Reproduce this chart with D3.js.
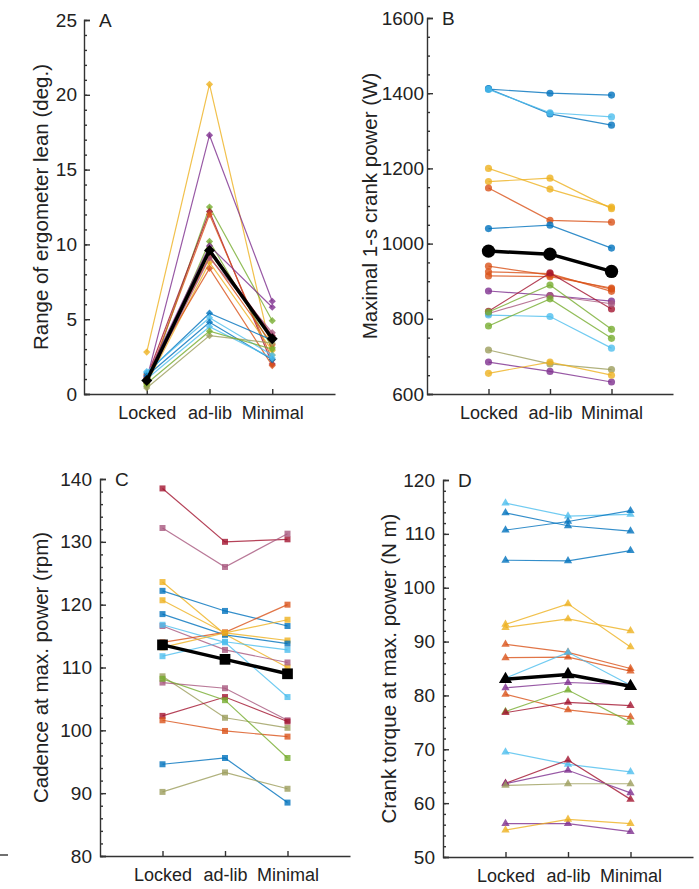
<!DOCTYPE html>
<html><head><meta charset="utf-8">
<script src="https://cdn.jsdelivr.net/npm/d3@7"></script>
<style>
html,body{margin:0;padding:0;background:#fff;}
svg{display:block;}
text{font-family:"Liberation Sans",Arial,Helvetica,sans-serif;fill:#222;}
</style></head><body>
<svg id="fig" width="699" height="889"></svg>
<script>
// Test conditions on every x axis
const conditions = ["Locked", "ad-lib", "Minimal"];

// A: range of ergometer lean (deg.), one entry per rider
const leanLocked  = [2.8, 1.0, 0.5, 1.1, 0.8, 0.6, 1.2, 0.9, 1.0, 0.7, 1.3, 0.8, 1.4, 1.5, 1.2, 1.0, 0.4, 0.7];
const leanAdlib   = [20.7, 17.3, 12.5, 12.2, 12.0, 10.2, 9.9, 9.7, 9.2, 8.8, 8.4, 9.1, 5.4, 5.1, 4.8, 4.5, 3.9, 4.2];
const leanMinimal = [2.6, 6.2, 4.9, 2.0, 2.3, 3.1, 5.8, 3.9, 3.3, 2.9, 1.9, 4.1, 3.6, 2.6, 2.3, 2.4, 3.4, 3.0];
const leanMean    = [0.9, 9.6, 3.7];
const leanHue     = ["yellow","purple","green","darkred","orange","green","purple","darkred","orange","yellow","orange","mauve","blue","lightblue","blue","lightblue","olive","green"];
const leanTicks   = [0, 5, 10, 15, 20, 25];

// B: maximal 1-s crank power (W)
const powerLocked  = [1411, 1412, 1410, 1200, 1165, 1148, 1040, 940, 925, 914, 874, 820, 814, 810, 781, 818, 717, 685, 655];
const powerAdlib   = [1400, 1345, 1348, 1145, 1174, 1062, 1049, 916, 920, 912, 862, 922, 862, 806, 853, 890, 680, 660, 685];
const powerMinimal = [1395, 1315, 1337, 1097, 1093, 1057, 988, 879, 873, 882, 847, 826, 840, 722, 748, 772, 665, 632, 650];
const powerMean    = [980, 972, 926];
const powerHue     = ["blue","blue","lightblue","yellow","yellow","orange","blue","orange","orange","orange","purple","darkred","mauve","lightblue","green","green","olive","purple","yellow"];
const powerTicks   = [600, 800, 1000, 1200, 1400, 1600];

// C: cadence at maximal power (rpm)
const cadenceLocked  = [138.5, 132.2, 123.6, 122.2, 120.7, 118.5, 116.6, 114.0, 111.8, 116.8, 113.2, 108.6, 107.6, 102.3, 101.6, 108.2, 94.6, 90.2];
const cadenceAdlib   = [130.0, 126.0, 115.3, 119.0, 115.5, 115.2, 112.8, 115.6, 114.1, 114.0, 115.5, 102.0, 106.7, 105.3, 99.9, 104.8, 95.6, 93.3];
const cadenceMinimal = [130.4, 131.3, 110.0, 116.6, 114.3, 113.8, 110.8, 120.0, 112.8, 105.3, 117.6, 100.4, 101.6, 101.4, 99.0, 95.6, 88.5, 90.7];
const cadenceMean    = [113.6, 111.3, 109.0];
const cadenceHue     = ["darkred","mauve","yellow","blue","yellow","blue","mauve","orange","lightblue","lightblue","yellow","olive","mauve","darkred","orange","green","blue","olive"];
const cadenceTicks   = [80, 90, 100, 110, 120, 130, 140];

// D: crank torque at maximal power (N m)
const torqueLocked  = [115.7, 113.9, 110.7, 105.1, 93.2, 92.6, 89.5, 87.0, 83.2, 81.4, 80.2, 77.0, 76.8, 69.5, 63.7, 63.6, 63.3, 56.2, 55.0];
const torqueAdlib   = [113.3, 111.5, 112.3, 105.0, 97.0, 94.2, 88.0, 87.1, 88.0, 82.4, 77.3, 81.0, 78.7, 67.2, 68.0, 66.1, 63.6, 56.2, 57.0];
const torqueMinimal = [113.6, 110.5, 114.3, 106.9, 89.0, 92.0, 85.0, 84.5, 81.9, 82.0, 76.0, 75.0, 78.1, 65.8, 60.7, 61.9, 63.6, 54.7, 56.2];
const torqueMean    = [83.0, 83.9, 81.7];
const torqueHue     = ["lightblue","blue","blue","blue","yellow","yellow","orange","orange","lightblue","purple","orange","green","darkred","lightblue","darkred","purple","olive","purple","yellow"];
const torqueTicks   = [50, 60, 70, 80, 90, 100, 110, 120];

// Rider colours
const palette = {
  blue: "#0072BD", orange: "#D95319", yellow: "#EDB120", purple: "#7E2F8E",
  green: "#77AC30", lightblue: "#4DBEEE", darkred: "#A2142F",
  mauve: "#A8577E", olive: "#9C9E5C"
};

const svg = d3.select("#fig");

const panels = [
  { letter: "A", locked: leanLocked, adlib: leanAdlib, minimal: leanMinimal, mean: leanMean, hue: leanHue,
    ticks: leanTicks, minorStep: 1, title: "Range of ergometer lean (deg.)",
    ax: 84, right: 335, top: 20, bottom: 394, titleX: 40, pad: 7,
    shape: "diamond" },
  { letter: "B", locked: powerLocked, adlib: powerAdlib, minimal: powerMinimal, mean: powerMean, hue: powerHue,
    ticks: powerTicks, minorStep: 50, title: "Maximal 1-s crank power (W)",
    ax: 427, right: 673, top: 18, bottom: 394, titleX: 369, pad: 3,
    shape: "circle" },
  { letter: "C", locked: cadenceLocked, adlib: cadenceAdlib, minimal: cadenceMinimal, mean: cadenceMean, hue: cadenceHue,
    ticks: cadenceTicks, minorStep: 2, title: "Cadence at max. power (rpm)",
    ax: 100, right: 350, top: 479, bottom: 856, titleX: 40, pad: 8,
    shape: "square" },
  { letter: "D", locked: torqueLocked, adlib: torqueAdlib, minimal: torqueMinimal, mean: torqueMean, hue: torqueHue,
    ticks: torqueTicks, minorStep: 2, title: "Crank torque at max. power (N m)",
    ax: 443, right: 693, top: 480, bottom: 857, titleX: 388, pad: 8,
    shape: "triangle" }
];

// Marker path for riders (small) and for the group mean (big)
function markerPath(shape, big) {
  if (shape === "circle")   return d3.symbol(d3.symbolCircle, big ? 140 : 40)();
  if (shape === "square")   return d3.symbol(d3.symbolSquare, big ? 115 : 36)();
  if (shape === "triangle") return d3.symbol(d3.symbolTriangle, big ? 75 : 30)();
  return d3.symbol(d3.symbolSquare, big ? 60 : 26)(); // rotated below into a diamond
}

panels.forEach(p => {
  const lo = p.ticks[0], hi = p.ticks[p.ticks.length - 1];
  const y = d3.scaleLinear().domain([lo, hi]).range([p.bottom, p.top]);
  const x = d3.scalePoint().domain(conditions).range([p.ax, p.right]).padding(1);
  const g = svg.append("g");

  // minor ticks
  const minorAxis = g.append("g").attr("transform", `translate(${p.ax},0)`)
    .call(d3.axisLeft(y).tickValues(d3.range(lo, hi + 1e-9, p.minorStep)).tickSize(-3).tickFormat(""));
  minorAxis.select(".domain").remove();

  // y axis with major ticks
  const yAxis = g.append("g").attr("transform", `translate(${p.ax},0)`)
    .call(d3.axisLeft(y).tickValues(p.ticks).tickFormat(d3.format("d"))
      .tickSizeInner(-6).tickSizeOuter(-6).tickPadding(p.pad));
  yAxis.selectAll("text").style("font-size", "19px").style("fill", "#222");

  // x axis
  const xAxis = g.append("g").attr("transform", `translate(0,${p.bottom})`)
    .call(d3.axisBottom(x).tickSizeInner(-5).tickSizeOuter(0).tickPadding(12));
  xAxis.selectAll("text").style("font-size", "18px").style("fill", "#222");

  [minorAxis, yAxis, xAxis].forEach(a => {
    a.selectAll("path,line").attr("stroke", "#333").attr("stroke-width", 1.4);
  });

  // axis title
  g.append("text")
    .attr("transform", `translate(${p.titleX},${(p.top + p.bottom) / 2}) rotate(-90)`)
    .attr("text-anchor", "middle").attr("dominant-baseline", "central")
    .style("font-size", "20.5px").text(p.title);

  // panel letter
  g.append("text").attr("x", p.ax + 15).attr("y", p.top + 7)
    .style("font-size", "19px").text(p.letter);

  const line = d3.line().x((d, j) => x(conditions[j])).y(d => y(d));
  const riders = p.locked.map((v, i) => ({ hue: palette[p.hue[i]], values: [p.locked[i], p.adlib[i], p.minimal[i]] }));
  const rot = p.shape === "diamond" ? " rotate(45)" : "";

  const rg = g.append("g").selectAll("g").data(riders).join("g");
  rg.append("path").attr("d", d => line(d.values))
    .attr("fill", "none").attr("stroke", d => d.hue).attr("stroke-width", 1.2).attr("stroke-opacity", 0.8);
  rg.selectAll("path.m").data(d => d.values.map(v => ({ v, hue: d.hue }))).join("path")
    .attr("class", "m")
    .attr("d", markerPath(p.shape, false))
    .attr("transform", (d, j) => `translate(${x(conditions[j])},${y(d.v)})${rot}`)
    .attr("fill", d => d.hue).attr("fill-opacity", 0.8);

  // group mean
  g.append("path").attr("d", line(p.mean))
    .attr("fill", "none").attr("stroke", "#000").attr("stroke-width", 3.5);
  g.append("g").selectAll("path").data(p.mean).join("path")
    .attr("d", markerPath(p.shape, true))
    .attr("transform", (d, j) => `translate(${x(conditions[j])},${y(d)})${rot}`)
    .attr("fill", "#000");
});

// short rule at the lower left edge
svg.append("line").attr("x1", 0).attr("x2", 8).attr("y1", 855).attr("y2", 855)
  .attr("stroke", "#333").attr("stroke-width", 1.4);
</script>
</body></html>
